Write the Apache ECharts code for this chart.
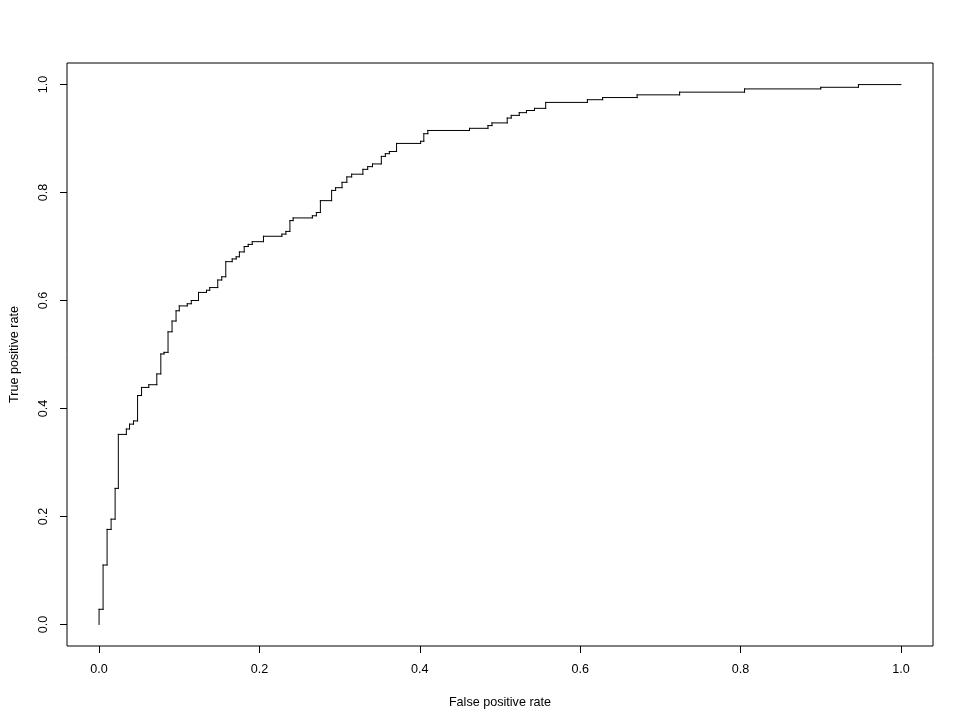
<!DOCTYPE html>
<html>
<head>
<meta charset="utf-8">
<script src="https://cdn.jsdelivr.net/npm/echarts@6/dist/echarts.min.js"></script>
<style>
html,body{margin:0;padding:0;background:#fff;}
#chart{width:966px;height:725px;}
</style>
</head>
<body>
<div id="chart"></div>
<script>
// ROC curve corner points: path goes up at previous FPR to new TPR, then right to new FPR
var fpr = [0.005,0.010,0.015,0.020,0.024,0.034,0.038,0.043,0.048,0.053,0.062,0.072,0.077,0.081,0.086,0.091,0.096,0.100,0.110,0.115,0.124,0.134,0.138,0.148,0.153,0.158,0.166,0.171,0.175,0.181,0.186,0.191,0.205,0.228,0.233,0.238,0.242,0.266,0.271,0.276,0.290,0.295,0.303,0.309,0.315,0.329,0.335,0.341,0.352,0.357,0.362,0.371,0.401,0.405,0.410,0.462,0.485,0.490,0.509,0.514,0.524,0.533,0.543,0.557,0.609,0.628,0.671,0.724,0.805,0.900,0.947,1.000];
var tpr = [0.028,0.110,0.176,0.195,0.252,0.352,0.362,0.371,0.377,0.424,0.439,0.444,0.464,0.501,0.504,0.542,0.562,0.581,0.590,0.594,0.600,0.615,0.619,0.624,0.638,0.644,0.672,0.677,0.681,0.690,0.700,0.704,0.709,0.719,0.723,0.728,0.748,0.753,0.757,0.763,0.785,0.804,0.809,0.819,0.829,0.834,0.843,0.848,0.853,0.867,0.872,0.876,0.891,0.895,0.909,0.915,0.919,0.924,0.929,0.938,0.943,0.948,0.952,0.956,0.967,0.972,0.976,0.981,0.986,0.992,0.995,1.000];
var tickValues = [0, 0.2, 0.4, 0.6, 0.8, 1.0];
var xTitle = 'False positive rate';
var yTitle = 'True positive rate';

// build step segments [x1, y1, x2, y2] from the corner arrays
var segs = [];
var px = 0, py = 0;
for (var i = 0; i < fpr.length; i++) {
  segs.push([px, py, px, tpr[i]]);
  segs.push([px, tpr[i], fpr[i], tpr[i]]);
  px = fpr[i]; py = tpr[i];
}

var font = 'Liberation Sans, Arial, sans-serif';
var fs = 12.6;
var chart = echarts.init(document.getElementById('chart'), null, {renderer: 'canvas'});
chart.setOption({
  animation: false,
  backgroundColor: '#ffffff',
  grid: {
    left: 63, top: 63, width: 870, height: 583,
    show: true, borderColor: '#000', borderWidth: 1, backgroundColor: 'transparent'
  },
  xAxis: {
    type: 'value', min: -0.04, max: 1.04,
    name: xTitle, nameLocation: 'middle', nameGap: 50,
    nameTextStyle: {color: '#000', fontFamily: font, fontSize: fs},
    axisLine: {show: false, onZero: false},
    splitLine: {show: false},
    axisTick: {show: true, customValues: tickValues, length: 7, lineStyle: {color: '#000'}},
    axisLabel: {customValues: tickValues, margin: 17, color: '#000', fontFamily: font, fontSize: fs,
      formatter: function (v) { return v.toFixed(1); }}
  },
  yAxis: {
    type: 'value', min: -0.04, max: 1.04,
    name: yTitle, nameLocation: 'middle', nameGap: 46,
    nameTextStyle: {color: '#000', fontFamily: font, fontSize: fs},
    axisLine: {show: false, onZero: false},
    splitLine: {show: false},
    axisTick: {show: true, customValues: tickValues, length: 7, lineStyle: {color: '#000'}},
    axisLabel: {customValues: tickValues, margin: 17, rotate: 90, color: '#000', fontFamily: font, fontSize: fs,
      formatter: function (v) { return v.toFixed(1); }}
  },
  series: [{
    type: 'custom',
    data: segs,
    encode: {x: [0, 2], y: [1, 3]},
    silent: true,
    renderItem: function (params, api) {
      var p1 = api.coord([api.value(0), api.value(1)]);
      var p2 = api.coord([api.value(2), api.value(3)]);
      return {
        type: 'line',
        shape: {x1: p1[0], y1: p1[1], x2: p2[0], y2: p2[1]},
        style: {stroke: '#000', lineWidth: 1, lineCap: 'square'}
      };
    }
  }]
});
</script>
</body>
</html>
